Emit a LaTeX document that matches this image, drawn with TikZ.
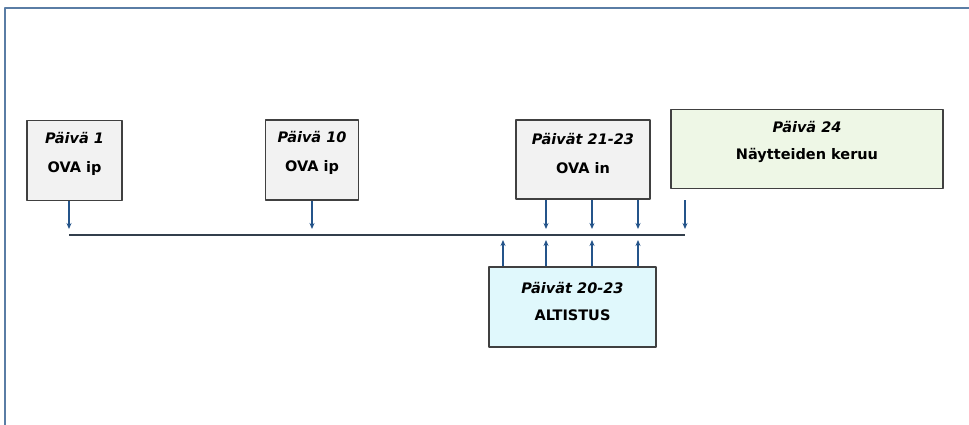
\documentclass[tikz,border=0pt]{standalone}
\usepackage{fontspec}
\setmainfont{DejaVu Sans}
\usetikzlibrary{arrows.meta}
\definecolor{framecol}{HTML}{5A7DA5}
\definecolor{arrowcol}{HTML}{24548A}
\definecolor{linecol}{HTML}{333F4C}
\definecolor{boxgray}{HTML}{F2F2F2}
\definecolor{boxgreen}{HTML}{EEF7E6}
\definecolor{boxcyan}{HTML}{E0F8FC}
\begin{document}
\begin{tikzpicture}[>={Stealth[length=6pt,width=5pt]}, x=1pt, y=-1pt, line join=round, font=\fontsize{14.5}{17}\selectfont\bfseries,
	daybox/.style={draw=black!75, line width=1.1pt, fill=boxgray, inner sep=0pt, minimum height=80pt},
	daytext/.style={align=center, inner sep=0pt},
	tick/.style={->, arrowcol, line width=1.2pt}]
	\useasboundingbox (0,0) rectangle (969,425);
	%Kehys
	\draw[framecol, line width=1.2pt] (5,425)--(5,8)--(969,8);
	%Laatikot
	\node[daybox, minimum width=95pt] (p1) at (74.5,160.5) {};
	\node[daytext] (p1t) at ([yshift=7pt]p1.center) {\textit{Päivä 1}\\[12pt]OVA ip};
	\node[daybox, minimum width=93pt] (p10) at (312,160) {};
	\node[daytext] (p10t) at ([yshift=7pt]p10.center) {\textit{Päivä 10}\\[12pt]OVA ip};
	\node[daybox, minimum width=134pt, minimum height=79pt] (p21) at (583,159.5) {};
	\node[daytext] (p21t) at ([yshift=6pt]p21.center) {\textit{Päivät 21-23}\\[12pt]OVA in};
	\node[daybox, fill=boxgreen, minimum width=272pt, minimum height=79pt] (p24) at (807,149) {};
	\node[daytext] (p24t) at ([yshift=7pt]p24.center) {\textit{Päivä 24}\\[10pt]Näytteiden keruu};
	\node[daybox, fill=boxcyan, minimum width=167pt] (p20) at (572.5,307) {};
	\node[daytext] (p20t) at ([yshift=6pt]p20.center) {\textit{Päivät 20-23}\\[10pt]ALTISTUS};
	%Aikajana
	\coordinate (tl1) at (69,235);
	\coordinate (tl2) at (685,235);
	\draw[linecol, line width=1.3pt] (tl1)--(tl2);
	%Nuolet alas
	\draw[tick] (p1.south -| tl1)--(69,229);
	\draw[tick] (p10.south)--(p10.south |- 0,229);
	\foreach \k/\xx in {a/546,b/592,c/638}{
		\coordinate (d\k) at (\xx,229);
		\draw[tick] (p21.south -| d\k)--(d\k);
	}
	\coordinate (e0) at (685,200);
	\draw[tick] (e0)--(685,229);
	%Nuolet ylös
	\foreach \k/\xx in {a/503,b/546,c/592,d/638}{
		\coordinate (u\k) at (\xx,240);
		\draw[tick] (p20.north -| u\k)--(u\k);
	}
\end{tikzpicture}
\end{document}
